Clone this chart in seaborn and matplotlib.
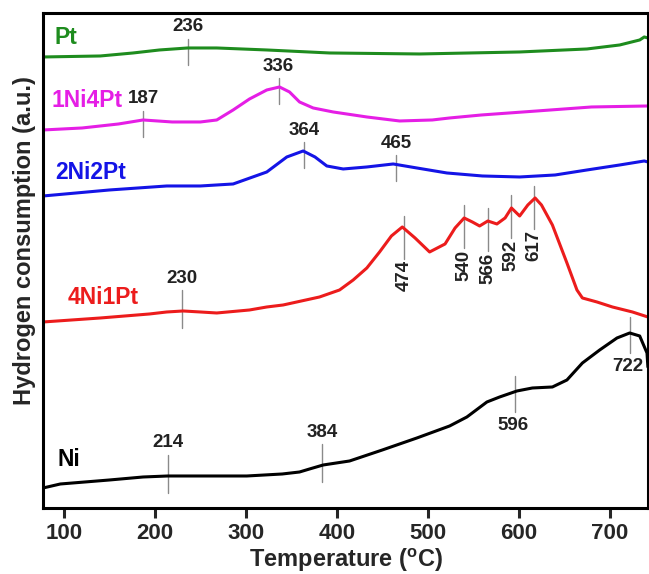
import numpy as np
import pandas as pd
import seaborn as sns
import matplotlib
matplotlib.use('Agg')
import matplotlib.pyplot as plt

# TPR traces (temperature in C, signal in a.u.)

pt_T = [77, 140, 176, 205, 236, 268, 323, 392, 491, 601, 675, 711, 733, 738, 742]
pt_y = [451, 452, 455, 458, 460, 460, 458, 455, 454, 456, 459, 463, 468, 471, 470]

ni1pt4_T = [77, 120, 160, 187, 219, 250, 268, 286, 304, 323, 337, 348, 359, 374, 396, 433, 469, 505, 524, 559, 620, 680, 742]
ni1pt4_y = [378, 380, 384, 388, 386, 386, 388, 398, 409, 418, 421, 416, 406, 400, 396, 391, 387, 388, 390, 393, 397, 401, 402]

ni2pt2_T = [77, 150, 213, 250, 286, 323, 345, 363, 376, 389, 407, 433, 462, 488, 521, 560, 601, 640, 675, 711, 738, 742]
ni2pt2_y = [312, 318, 322, 322, 324, 336, 351, 357, 351, 342, 339, 341, 344, 340, 335, 332, 331, 333, 338, 343, 347, 346]

ni4pt1_T = [77, 140, 194, 213, 231, 250, 268, 304, 323, 341, 381, 403, 418, 433, 447, 460, 472, 486, 502, 519, 530, 540,
            549, 557, 566, 576, 585, 592, 601, 610, 618, 625, 637, 653, 664, 670, 686, 703, 725, 742]
ni4pt1_y = [186, 190, 194, 196, 197, 196, 195, 198, 201, 203, 211, 218, 228, 240, 256, 272, 281, 270, 256, 264, 280, 290,
            286, 282, 287, 284, 290, 300, 292, 303, 310, 303, 283, 245, 218, 210, 206, 201, 196, 191]

ni_T = [77, 96, 150, 187, 214, 301, 340, 359, 370, 385, 414, 450, 488, 524, 543, 565, 579, 598, 615, 637, 653, 670, 689,
        708, 722, 733, 741, 742]
ni_y = [20, 24, 28, 31, 32, 32, 34, 36, 39, 43, 47, 58, 70, 82, 91, 106, 111, 117, 120, 121, 128, 145, 158,
        170, 175, 172, 155, 141]

samples = ['Pt', '1Ni4Pt', '2Ni2Pt', '4Ni1Pt', 'Ni']
colors = ['#1e8c1e', '#e51ee5', '#1414e6', '#ec1c1c', '#000000']

# peak temperatures marked on each trace
pt_peaks = [236]
ni1pt4_peaks = [187, 336]
ni2pt2_peaks = [364, 465]
ni4pt1_peaks = [230, 474, 540, 566, 592, 617]
ni_peaks = [214, 384, 596, 722]

xticks = [100, 200, 300, 400, 500, 600, 700]

traces = {
    'Pt': (pt_T, pt_y, pt_peaks),
    '1Ni4Pt': (ni1pt4_T, ni1pt4_y, ni1pt4_peaks),
    '2Ni2Pt': (ni2pt2_T, ni2pt2_y, ni2pt2_peaks),
    '4Ni1Pt': (ni4pt1_T, ni4pt1_y, ni4pt1_peaks),
    'Ni': (ni_T, ni_y, ni_peaks),
}

frames = []
for name, (T, y, _) in traces.items():
    frames.append(pd.DataFrame({'T': T, 'signal': y, 'sample': name}))
df = pd.concat(frames, ignore_index=True)

sns.set_style('white')
plt.rcParams['font.family'] = ['Liberation Sans', 'DejaVu Sans']
plt.rcParams['font.weight'] = 'bold'
plt.rcParams['mathtext.fontset'] = 'custom'
plt.rcParams['mathtext.bf'] = 'Liberation Sans:bold'
plt.rcParams['mathtext.rm'] = 'Liberation Sans:bold'
plt.rcParams['lines.solid_joinstyle'] = 'round'
plt.rcParams['lines.solid_capstyle'] = 'round'

fig = plt.figure(figsize=(6.49, 5.74), dpi=100)
ax = fig.add_axes([0.0663, 0.115, 0.932, 0.8624])

sns.lineplot(data=df, x='T', y='signal', hue='sample', hue_order=samples,
             palette=colors, sort=False, estimator=None, legend=False,
             linewidth=2.2, ax=ax)

# how the peak marks are drawn
rot_peaks = [474, 540, 566, 592, 617]
down_peaks = [596, 722]
long_peaks = [230, 214, 384]

for name, (T, y, peaks) in traces.items():
    for p in peaks:
        yc = np.interp(p, T, y)
        if p in rot_peaks:
            lo, hi = yc - 30, yc + 13
            ax.text(p, lo - 17, str(p), rotation=90, ha='center', va='center',
                    fontsize=13.5, fontweight='bold', color='#222222')
        elif p in down_peaks:
            lo, hi = yc - 20, yc + 16
            ax.text(p - 2, lo - 14, str(p), ha='center', va='center',
                    fontsize=13.5, fontweight='bold', color='#222222')
        elif p in long_peaks:
            lo, hi = yc - 17, yc + 21
            ax.text(p, hi + 12, str(p), ha='center', va='center',
                    fontsize=13.5, fontweight='bold', color='#222222')
        else:
            lo, hi = yc - 17, yc + 9
            ax.text(p, hi + 12, str(p), ha='center', va='center',
                    fontsize=13.5, fontweight='bold', color='#222222')
        ax.plot([p, p], [lo, hi], color='#8a8a8a', linewidth=1.0, zorder=1)

# sample names
label_pos = [(102, 470), (125, 407), (129, 335), (143, 210), (105, 48)]
for name, c, (lx, ly) in zip(samples, colors, label_pos):
    ax.text(lx, ly, name, color=c, fontsize=16.5, fontweight='bold',
            ha='center', va='center')

ax.set_xlim(77, 742)
ax.set_ylim(0, 495)
ax.set_xticks(xticks)
ax.set_yticks([])
ax.tick_params(axis='x', direction='out', length=7, width=2.2, labelsize=16,
               pad=4, bottom=True)
for lab in ax.get_xticklabels():
    lab.set_fontweight('bold')
for s in ax.spines.values():
    s.set_linewidth(2.2)
    s.set_color('black')
ax.set_xlabel('')
ax.set_ylabel('')

fig.text(346 / 649, 1 - 560 / 574, r'Temperature ($^{\mathbf{o}}$C)',
         ha='center', va='center', fontsize=17, fontweight='bold')
fig.text(25 / 649, 1 - 241 / 574, 'Hydrogen consumption (a.u.)', rotation=90,
         ha='center', va='center', fontsize=17, fontweight='bold')

fig.savefig('out.png', dpi=100)
